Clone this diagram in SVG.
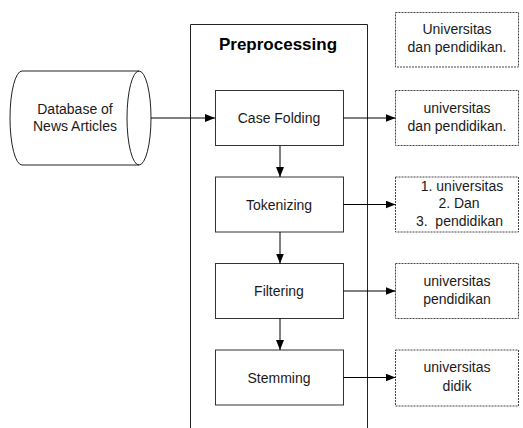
<svg xmlns="http://www.w3.org/2000/svg" width="523" height="428" viewBox="0 0 523 428">
<style>
text{font-family:"Liberation Sans",Arial,sans-serif;font-size:14px;fill:#1a1a1a;text-anchor:middle}
.title{font-weight:bold;font-size:17px;fill:#000}
.box{fill:#fff;stroke:#333;stroke-width:1}
.out{fill:#fff;stroke:#444;stroke-width:1;stroke-dasharray:2,1}
.con{fill:none;stroke:#000;stroke-width:1;marker-end:url(#ah)}
</style>
<defs>
<marker id="ah" markerWidth="10" markerHeight="8" refX="10" refY="4" orient="auto" markerUnits="userSpaceOnUse">
<path d="M0,0 L10,4 L0,8 Z" fill="#000"/>
</marker>
</defs>
<rect width="523" height="428" fill="#fff"/>
<g id="preprocessing">
<path d="M190.5,430 L190.5,24.5 L367.5,24.5 L367.5,430" fill="none" stroke="#222" stroke-width="1"/>
<text class="title" x="278" y="49.5">Preprocessing</text>
</g>
<g id="database">
<path d="M22,71 L139,71 A12,47 0 0 1 139,165 L22,165 A12,47 0 0 1 22,71 Z" fill="#fff" stroke="#222" stroke-width="1"/>
<path d="M139,71 A12,47 0 0 0 139,165" fill="none" stroke="#222" stroke-width="1"/>
<text x="75" y="114">Database of</text>
<text x="75" y="130.5">News Articles</text>
</g>
<g id="casefolding">
<rect class="box" x="215.5" y="90.5" width="128" height="55"/>
<text x="279" y="123">Case Folding</text>
</g>
<g id="tokenizing">
<rect class="box" x="215.5" y="177" width="128" height="55"/>
<text x="279" y="210">Tokenizing</text>
</g>
<g id="filtering">
<rect class="box" x="215.5" y="263.5" width="128" height="55"/>
<text x="279" y="296">Filtering</text>
</g>
<g id="stemming">
<rect class="box" x="215.5" y="350" width="128" height="55"/>
<text x="279" y="382.5">Stemming</text>
</g>
<g id="out0">
<rect class="out" x="395.5" y="12.5" width="123" height="54.5"/>
<text x="457" y="33.5">Universitas</text>
<text x="457" y="51.5">dan pendidikan.</text>
</g>
<g id="out1">
<rect class="out" x="395.5" y="90.5" width="123" height="55"/>
<text x="457" y="112.5">universitas</text>
<text x="457" y="130.5">dan pendidikan.</text>
</g>
<g id="out2">
<rect class="out" x="395.5" y="177" width="123" height="55"/>
<text x="462" y="190.5">1. universitas</text>
<text x="459" y="208">2. Dan</text>
<text x="459.5" y="225.5" xml:space="preserve">3.  pendidikan</text>
</g>
<g id="out3">
<rect class="out" x="395.5" y="263.5" width="123" height="55"/>
<text x="457" y="286">universitas</text>
<text x="457" y="303.5">pendidikan</text>
</g>
<g id="out4">
<rect class="out" x="395.5" y="350" width="123" height="56"/>
<text x="457" y="372">universitas</text>
<text x="457" y="390.5">didik</text>
</g>
<g id="connectors">
<line class="con" x1="151" y1="118" x2="215" y2="118"/>
<line class="con" x1="280" y1="146" x2="280" y2="177"/>
<line class="con" x1="280" y1="232" x2="280" y2="263.5"/>
<line class="con" x1="280" y1="318.5" x2="280" y2="350"/>
<line class="con" x1="343.5" y1="118" x2="395.5" y2="118"/>
<line class="con" x1="343.5" y1="204.5" x2="395.5" y2="204.5"/>
<line class="con" x1="343.5" y1="291" x2="395.5" y2="291"/>
<line class="con" x1="343.5" y1="377.5" x2="395.5" y2="377.5"/>
</g>
</svg>
